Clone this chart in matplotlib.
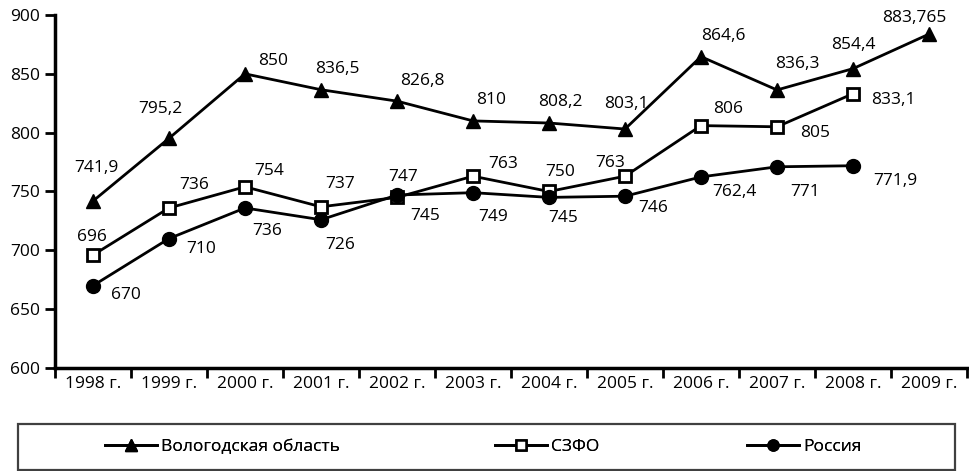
import matplotlib
matplotlib.use("Agg")
import matplotlib.pyplot as plt
from matplotlib.lines import Line2D
from matplotlib.patches import Rectangle

plt.rcParams['font.family'] = ['Open Sans', 'DejaVu Sans']

years = ["1998 г.", "1999 г.", "2000 г.", "2001 г.", "2002 г.", "2003 г.",
         "2004 г.", "2005 г.", "2006 г.", "2007 г.", "2008 г.", "2009 г."]
vologda = [741.9, 795.2, 850, 836.5, 826.8, 810, 808.2, 803.1, 864.6, 836.3, 854.4, 883.765]
szfo = [696, 736, 754, 737, 745, 763, 750, 763, 806, 805, 833.1]
russia = [670, 710, 736, 726, 747, 749, 745, 746, 762.4, 771, 771.9]

vologda_lbl = ["741,9", "795,2", "850", "836,5", "826,8", "810", "808,2", "803,1", "864,6", "836,3", "854,4", "883,765"]
szfo_lbl = ["696", "736", "754", "737", "745", "763", "750", "763", "806", "805", "833,1"]
russia_lbl = ["670", "710", "736", "726", "747", "749", "745", "746", "762,4", "771", "771,9"]

vol_off = [(3, 33), (-9, 29), (28, 13), (16, 21), (25, 20), (18, 21), (11, 21), (1, 25), (22, 21), (20, 26), (0, 24), (-15, 16)]
szfo_off = [(-1, 18), (25, 23), (24, 16), (19, 23), (28, -19), (30, 12), (11, 19), (-15, 13), (27, 17), (38, -6), (40, -6)]
rus_off = [(33, -9), (32, -10), (22, -23), (19, -25), (6, 18), (20, -24), (14, -21), (28, -12), (33, -15), (28, -25), (42, -15)]

fig = plt.figure(figsize=(9.7, 4.71), dpi=100)
ax = fig.add_axes([55/970, 1-368/471, 912/970, 353/471])

lw = 2
l1, = ax.plot(range(len(vologda)), vologda, color='black', lw=lw, marker='^', ms=10,
              markerfacecolor='black', markeredgecolor='black', zorder=3)
l2, = ax.plot(range(len(szfo)), szfo, color='black', lw=lw, marker='s', ms=9,
              markerfacecolor='white', markeredgecolor='black', markeredgewidth=2, zorder=3)
l3, = ax.plot(range(len(russia)), russia, color='black', lw=lw, marker='o', ms=10,
              markerfacecolor='black', markeredgecolor='black', zorder=4)

fs = 12.5
for vals, lbls, offs in [(vologda, vologda_lbl, vol_off), (szfo, szfo_lbl, szfo_off), (russia, russia_lbl, rus_off)]:
    for i, (v, t, o) in enumerate(zip(vals, lbls, offs)):
        ax.annotate(t, (i, v), xytext=o, textcoords='offset pixels',
                    ha='center', va='center', fontsize=fs, color='black')

ax.set_xlim(-0.5, 11.5)
ax.set_ylim(600, 900)
ax.set_yticks([600, 650, 700, 750, 800, 850, 900])
ax.set_xticks([i + 0.5 for i in range(-1, 12)], minor=False)
ax.set_xticklabels([])
ax.set_xticks(range(12), minor=True)
ax.set_xticklabels(years, minor=True)
ax.tick_params(axis='x', which='major', direction='out', length=7, width=2)
ax.tick_params(axis='x', which='minor', length=0, pad=6, labelsize=fs)
ax.tick_params(axis='y', direction='out', length=7, width=2, labelsize=fs, pad=4)
for s in ['top', 'right']:
    ax.spines[s].set_visible(False)
for s in ['left', 'bottom']:
    ax.spines[s].set_linewidth(2.5)

fig.patches.append(Rectangle((18/970, 1/471), 937/970, (470-424)/471, transform=fig.transFigure,
                             fill=False, edgecolor='#404040', lw=1.6))

# legend handles (smaller markers as in the reference)
h1 = Line2D([], [], color='black', lw=2, marker='^', ms=8, markerfacecolor='black')
h2 = Line2D([], [], color='black', lw=2, marker='s', ms=7, markerfacecolor='white', markeredgewidth=1.8)
h3 = Line2D([], [], color='black', lw=2, marker='o', ms=8, markerfacecolor='black')

ly = 1-447/471
for h, lab, x in [(h1, "Вологодская область", 105/970), (h2, "СЗФО", 495/970), (h3, "Россия", 747/970)]:
    leg = fig.legend([h], [lab], loc='center left', bbox_to_anchor=(x, ly), frameon=False,
                     fontsize=fs, handlelength=3.0, handletextpad=0.25, borderpad=0, borderaxespad=0)
    fig.add_artist(leg)

fig.savefig("out.png", dpi=100)
